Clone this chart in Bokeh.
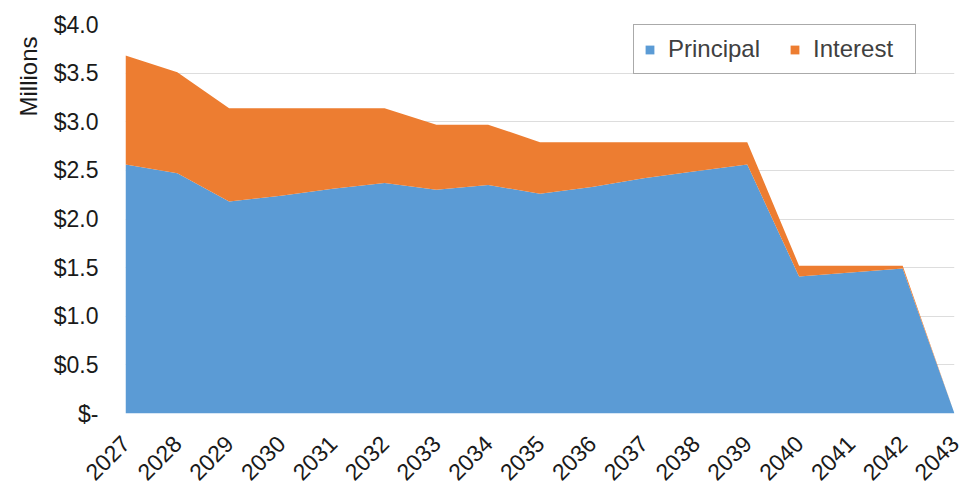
import math
from bokeh.plotting import figure
from bokeh.models import ColumnDataSource, FixedTicker, Range1d, Legend, Title
from bokeh.embed import file_html
from bokeh.resources import INLINE

years = list(range(2027, 2044))
principal = [2.56, 2.47, 2.18, 2.24, 2.31, 2.37, 2.30, 2.35, 2.26, 2.33, 2.42, 2.49, 2.56, 1.41, 1.45, 1.49, 0.0]
interest = [1.12, 1.04, 0.96, 0.90, 0.83, 0.77, 0.67, 0.62, 0.53, 0.46, 0.37, 0.30, 0.23, 0.11, 0.07, 0.03, 0.0]
series_names = ["Principal", "Interest"]
colors = ["#5B9BD5", "#ED7D31"]
y_ticks = [0.0, 0.5, 1.0, 1.5, 2.0, 2.5, 3.0, 3.5, 4.0]
y_tick_labels = ["$-", "$0.5", "$1.0", "$1.5", "$2.0", "$2.5", "$3.0", "$3.5", "$4.0"]

FONT = "Liberation Sans"

source = ColumnDataSource(dict(year=years, Principal=principal, Interest=interest))

p = figure(output_backend="svg", toolbar_location=None,
           x_range=Range1d(years[0], years[-1]), y_range=Range1d(0, 4.0))
p.frame_width = 829
p.frame_height = 389
p.min_border_left = 125
p.min_border_right = 11
p.min_border_top = 24
p.min_border_bottom = 75
p.outline_line_color = None
p.background_fill_color = "white"
p.border_fill_color = "white"

renderers = p.varea_stack(series_names, x="year", color=colors, source=source)

p.xgrid.visible = False
p.ygrid.grid_line_color = "#DDDDDD"
p.ygrid.grid_line_width = 1

p.yaxis.ticker = FixedTicker(ticks=y_ticks)
p.yaxis.major_label_overrides = {t: l for t, l in zip(y_ticks, y_tick_labels)}
p.xaxis.ticker = FixedTicker(ticks=years)
p.xaxis.major_label_overrides = {y: str(y) for y in years}
p.xaxis.major_label_orientation = math.pi / 4

for ax in (p.xaxis[0], p.yaxis[0]):
    ax.axis_line_color = None
    ax.major_tick_line_color = None
    ax.minor_tick_line_color = None
    ax.major_tick_out = 0
    ax.major_tick_in = 0
    ax.major_label_text_font = FONT
    ax.major_label_text_font_size = "23px"
    ax.major_label_text_color = "#1a1a1a"
p.yaxis.major_label_standoff = 27
p.xaxis.major_label_standoff = 26

title = Title(text="Millions", align="right", text_font=FONT, text_font_size="24px",
              text_font_style="normal", text_color="#1a1a1a", standoff=18, offset=12)
p.add_layout(title, "left")

legend = Legend(items=[(n, [r]) for n, r in zip(series_names, renderers)],
                location=(508, 339), orientation="horizontal",
                label_text_font=FONT, label_text_font_size="24px",
                label_text_color="#404040", label_width=92,
                glyph_width=11, glyph_height=11, label_standoff=13, spacing=29,
                padding=10, border_line_color="#555555", border_line_width=1,
                background_fill_color="white", background_fill_alpha=1.0)
p.add_layout(legend, "center")

open("out.html", "w").write(file_html(p, INLINE))
